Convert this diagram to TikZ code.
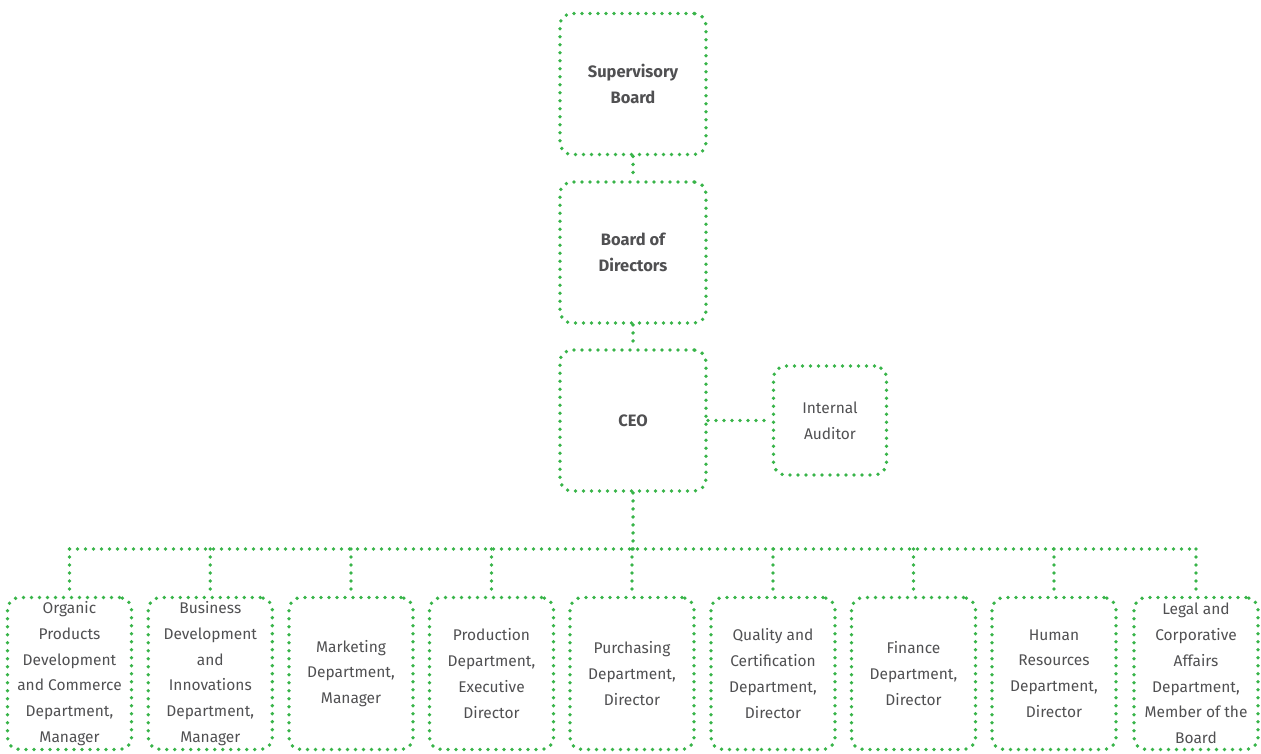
\documentclass[tikz,border=0pt]{standalone}
\usepackage{fontspec}
\setmainfont{Fira Sans}
\usepackage{xcolor}
\usepackage{tikz}
\usetikzlibrary{positioning}
\definecolor{dotgreen}{HTML}{38B449}
\definecolor{ink}{HTML}{505052}

\begin{document}
\begin{tikzpicture}[x=1pt, y=-1pt,
  dotline/.style={draw=dotgreen, line width=3.8pt, line cap=round, dash pattern=on 0pt off 8pt},
  unitbox/.style={dotline, rounded corners=12pt, align=center, text=ink, inner sep=0pt, font=\fontsize{15.5}{25.7}\selectfont},
  headbox/.style={unitbox, minimum width=146pt, minimum height=141pt, font=\bfseries\fontsize{16.5}{26}\selectfont},
  deptbox/.style={unitbox, minimum width=124pt, minimum height=152pt}]
\useasboundingbox (0,0) rectangle (1261,754);
\node[headbox] (sup) at (633,84) {Supervisory\\Board};
\node[headbox] (bod) at (633,252.5) {Board of\\Directors};
\node[headbox] (ceo) at (633,420.5) {CEO};
\node[unitbox, minimum width=113pt, minimum height=109pt] (aud) at (830,420.5) {Internal\\Auditor};
\node[deptbox] (org) at (69.5,673.5) {Organic\\Products\\Development\\and Commerce\\Department,\\Manager};
\node[deptbox] (biz) at (210.3,673.5) {Business\\Development\\and\\Innovations\\Department,\\Manager};
\node[deptbox] (mkt) at (351,673.5) {Marketing\\Department,\\Manager};
\node[deptbox] (prod) at (491.5,673.5) {Production\\Department,\\Executive\\Director};
\node[deptbox] (pur) at (632,673.5) {Purchasing\\Department,\\Director};
\node[deptbox] (qual) at (773,673.5) {Quality and\\Certification\\Department,\\Director};
\node[deptbox] (fin) at (913.5,673.5) {Finance\\Department,\\Director};
\node[deptbox] (hr) at (1054,673.5) {Human\\Resources\\Department,\\Director};
\node[deptbox] (legal) at (1196,673.5) {Legal and\\Corporative\\Affairs\\Department,\\Member of the\\Board};
\coordinate (bus) at (633,549);
\draw[dotline] (sup) -- (bod);
\draw[dotline] (bod) -- (ceo);
\draw[dotline] (ceo) -- (aud);
\draw[dotline] (ceo.south) -- (bus);
\draw[dotline] (org.north |- bus) -- (legal.north |- bus);
\foreach \d in {org,biz,mkt,prod,pur,qual,fin,hr,legal}
  \draw[dotline] (\d.north |- bus) -- (\d.north);
\end{tikzpicture}
\end{document}
